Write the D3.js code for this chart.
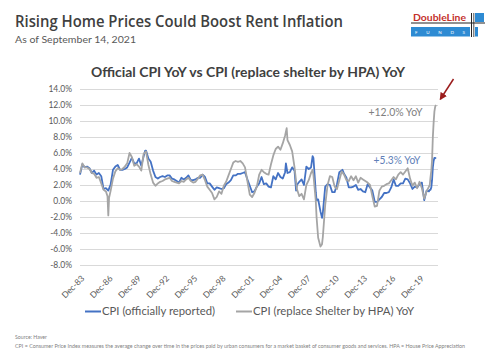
<!DOCTYPE html>
<html>
<head>
<meta charset="utf-8">
<script src="https://cdn.jsdelivr.net/npm/d3@7"></script>
<style>
  html, body { margin: 0; padding: 0; background: #fff; }
  svg { display: block; font-family: Lato, "Open Sans", sans-serif; }
  .grid line { stroke: #d9d9d9; stroke-width: 1; }
  .grid .domain { display: none; }
  .axis .domain, .axis line { display: none; }
  .axis text { fill: #595959; font-size: 8.5px; font-family: Lato, sans-serif; }
</style>
</head>
<body>
<svg id="chart" width="500" height="352"></svg>
<script>
// ---- data ----
const yTicks = [-8, -6, -4, -2, 0, 2, 4, 6, 8, 10, 12, 14];
const xTickLabels = ["Dec-83", "Dec-86", "Dec-89", "Dec-92", "Dec-95", "Dec-98",
  "Dec-01", "Dec-04", "Dec-07", "Dec-10", "Dec-13", "Dec-16", "Dec-19"];

const cpiOfficial = [
  ["1983-11", 3.3],
  ["1984-02", 4.6], ["1984-05", 4.2], ["1984-08", 4.3], ["1984-11", 4.1],
  ["1985-02", 3.5], ["1985-05", 3.8], ["1985-08", 3.3], ["1985-11", 3.5],
  ["1986-02", 3.1], ["1986-05", 1.5], ["1986-08", 1.6], ["1986-11", 1.3],
  ["1987-02", 2.1], ["1987-05", 3.9], ["1987-08", 4.3], ["1987-11", 4.5],
  ["1988-02", 3.9], ["1988-05", 3.9], ["1988-08", 4.0], ["1988-11", 4.2],
  ["1989-02", 4.8], ["1989-05", 5.4], ["1989-08", 4.7], ["1989-11", 4.7],
  ["1990-02", 5.3], ["1990-05", 4.4], ["1990-08", 5.6], ["1990-10", 6.3], ["1990-11", 6.3],
  ["1991-02", 5.3], ["1991-05", 4.9], ["1991-08", 3.8], ["1991-11", 3.0],
  ["1992-02", 2.8], ["1992-05", 3.0], ["1992-08", 3.1], ["1992-11", 3.0],
  ["1993-02", 3.2], ["1993-05", 3.2], ["1993-08", 2.8], ["1993-11", 2.7],
  ["1994-02", 2.5], ["1994-05", 2.3], ["1994-08", 2.9], ["1994-11", 2.7],
  ["1995-02", 2.9], ["1995-05", 3.2], ["1995-08", 2.6], ["1995-11", 2.6],
  ["1996-02", 2.7], ["1996-05", 2.9], ["1996-08", 2.9], ["1996-11", 3.3],
  ["1997-02", 3.0], ["1997-05", 2.2], ["1997-08", 2.2], ["1997-11", 1.8],
  ["1998-02", 1.4], ["1998-05", 1.7], ["1998-08", 1.6], ["1998-11", 1.5],
  ["1999-02", 1.6], ["1999-05", 2.1], ["1999-08", 2.3], ["1999-11", 2.6],
  ["2000-02", 3.2], ["2000-05", 3.2], ["2000-08", 3.4], ["2000-11", 3.4],
  ["2001-02", 3.5], ["2001-05", 3.6], ["2001-08", 2.7], ["2001-11", 1.9],
  ["2002-02", 1.1], ["2002-05", 1.2], ["2002-08", 1.8], ["2002-11", 2.2],
  ["2003-02", 3.0], ["2003-05", 2.1], ["2003-08", 2.2], ["2003-11", 1.8],
  ["2004-02", 1.7], ["2004-05", 3.1], ["2004-08", 2.7], ["2004-11", 3.5],
  ["2005-02", 3.0], ["2005-05", 2.8], ["2005-08", 3.6], ["2005-09", 4.7], ["2005-11", 3.5],
  ["2006-02", 3.6], ["2006-05", 4.2], ["2006-08", 3.8], ["2006-10", 1.3], ["2006-11", 2.0],
  ["2007-02", 2.4], ["2007-05", 2.7], ["2007-08", 2.0], ["2007-11", 4.3],
  ["2008-02", 4.0], ["2008-05", 4.2], ["2008-07", 5.6], ["2008-08", 5.4], ["2008-11", 1.1], ["2008-12", 0.1],
  ["2009-02", 0.2], ["2009-05", -1.3], ["2009-07", -2.1], ["2009-08", -1.5], ["2009-11", 1.8],
  ["2010-02", 2.1], ["2010-05", 2.0], ["2010-08", 1.1], ["2010-11", 1.1],
  ["2011-02", 2.1], ["2011-05", 3.6], ["2011-08", 3.8], ["2011-09", 3.9], ["2011-11", 3.4],
  ["2012-02", 2.9], ["2012-05", 1.7], ["2012-08", 1.7], ["2012-11", 1.8],
  ["2013-02", 2.0], ["2013-05", 1.4], ["2013-08", 1.5], ["2013-11", 1.2],
  ["2014-02", 1.1], ["2014-05", 2.1], ["2014-08", 1.7], ["2014-11", 1.3],
  ["2015-02", -0.1], ["2015-05", -0.1], ["2015-08", 0.2], ["2015-11", 0.5],
  ["2016-02", 1.0], ["2016-05", 1.0], ["2016-08", 1.1], ["2016-11", 1.7],
  ["2017-02", 2.7], ["2017-05", 1.9], ["2017-08", 1.9], ["2017-11", 2.2],
  ["2018-02", 2.2], ["2018-05", 2.8], ["2018-08", 2.7], ["2018-11", 2.2],
  ["2019-02", 1.5], ["2019-05", 1.8], ["2019-08", 1.7], ["2019-11", 2.1],
  ["2020-02", 2.3], ["2020-05", 0.1], ["2020-08", 1.3], ["2020-11", 1.2], ["2020-12", 1.4],
  ["2021-01", 1.4], ["2021-02", 1.7], ["2021-03", 2.6], ["2021-04", 4.2], ["2021-05", 5.0],
  ["2021-06", 5.4], ["2021-07", 5.4], ["2021-08", 5.3],
];

const cpiShelterHpa = [
  ["1983-11", 3.5],
  ["1984-02", 4.7], ["1984-05", 4.2], ["1984-08", 4.2], ["1984-11", 4.0],
  ["1985-02", 3.5], ["1985-05", 3.4], ["1985-08", 2.9], ["1985-11", 3.0],
  ["1986-02", 2.2], ["1986-05", 1.4], ["1986-08", 1.2], ["1986-10", 0.6], ["1986-11", -1.8], ["1986-12", 0.4],
  ["1987-02", 1.3], ["1987-05", 2.8], ["1987-08", 3.7], ["1987-11", 4.1],
  ["1988-02", 3.9], ["1988-05", 4.0], ["1988-08", 4.3], ["1988-11", 4.7],
  ["1989-02", 6.0], ["1989-05", 5.5], ["1989-08", 4.4], ["1989-11", 4.6],
  ["1990-02", 4.3], ["1990-05", 3.8], ["1990-08", 5.9], ["1990-11", 6.2],
  ["1991-02", 4.5], ["1991-05", 3.3], ["1991-08", 2.3], ["1991-11", 1.9],
  ["1992-02", 2.2], ["1992-05", 2.4], ["1992-08", 2.5], ["1992-11", 2.7],
  ["1993-02", 2.8], ["1993-05", 2.9], ["1993-08", 2.5], ["1993-11", 2.4],
  ["1994-02", 2.3], ["1994-05", 2.2], ["1994-08", 2.5], ["1994-11", 2.4],
  ["1995-02", 2.7], ["1995-05", 2.9], ["1995-08", 2.5], ["1995-11", 2.3],
  ["1996-02", 2.4], ["1996-05", 2.8], ["1996-08", 3.2], ["1996-11", 3.3],
  ["1997-02", 2.6], ["1997-05", 1.8], ["1997-08", 1.4], ["1997-11", 1.0],
  ["1998-02", 0.2], ["1998-05", 0.5], ["1998-08", 1.2], ["1998-11", 0.9],
  ["1999-02", 1.9], ["1999-05", 2.4], ["1999-08", 3.2], ["1999-11", 4.0],
  ["2000-02", 4.8], ["2000-05", 5.0], ["2000-08", 4.9], ["2000-11", 5.0],
  ["2001-02", 4.7], ["2001-05", 4.2], ["2001-08", 2.5], ["2001-11", 0.8],
  ["2002-02", 0.5], ["2002-05", 1.0], ["2002-08", 1.8], ["2002-11", 3.3],
  ["2003-02", 3.9], ["2003-05", 3.6], ["2003-08", 3.4], ["2003-11", 3.3],
  ["2004-02", 4.6], ["2004-05", 5.7], ["2004-08", 6.5], ["2004-11", 6.8],
  ["2005-02", 6.4], ["2005-05", 7.2], ["2005-08", 8.2], ["2005-10", 9.1], ["2005-11", 7.6],
  ["2006-02", 7.0], ["2006-05", 6.2], ["2006-08", 4.2], ["2006-11", 1.5],
  ["2007-02", 0.6], ["2007-05", 0.9], ["2007-08", 0.2], ["2007-11", 2.0],
  ["2008-02", 2.6], ["2008-05", 3.5], ["2008-07", 3.9], ["2008-08", 3.3], ["2008-11", 0.0], ["2008-12", -2.0],
  ["2009-02", -4.6], ["2009-05", -5.7], ["2009-07", -5.4], ["2009-08", -4.5], ["2009-11", -0.5],
  ["2010-02", 2.0], ["2010-05", 3.1], ["2010-08", 3.0], ["2010-11", 1.8],
  ["2011-02", 1.5], ["2011-05", 2.6], ["2011-08", 3.7], ["2011-11", 3.3],
  ["2012-02", 2.6], ["2012-05", 2.5], ["2012-08", 3.1], ["2012-11", 2.6],
  ["2013-02", 3.1], ["2013-05", 2.3], ["2013-08", 2.9], ["2013-11", 2.7],
  ["2014-02", 2.5], ["2014-05", 2.3], ["2014-08", 2.0], ["2014-11", 0.6],
  ["2015-02", -0.7], ["2015-05", -0.6], ["2015-08", 1.3], ["2015-11", 1.8],
  ["2016-02", 1.9], ["2016-05", 2.1], ["2016-08", 2.2], ["2016-11", 2.6],
  ["2017-02", 3.0], ["2017-05", 2.7], ["2017-08", 3.3], ["2017-11", 3.6],
  ["2018-02", 3.3], ["2018-05", 3.7], ["2018-08", 4.1], ["2018-11", 2.8],
  ["2019-02", 1.9], ["2019-05", 2.3], ["2019-08", 1.6], ["2019-11", 2.4],
  ["2020-02", 1.6], ["2020-05", 0.3], ["2020-08", 1.2], ["2020-11", 1.8], ["2020-12", 2.0],
  ["2021-01", 3.0], ["2021-02", 3.8], ["2021-03", 5.1], ["2021-04", 8.0], ["2021-05", 9.8],
  ["2021-06", 11.2], ["2021-07", 11.8], ["2021-08", 12.0],
];

const seriesNames = ["CPI (officially reported)", "CPI (replace Shelter by HPA) YoY"];
const calloutTexts = ["+12.0% YoY", "+5.3% YoY"];

// ---- layout ----
const svg = d3.select("#chart");
const plot = { left: 80, right: 436, top: 89, bottom: 265 };
const blue = "#4472c4";
const grey = "#a5a5a5";

const parseMonth = d3.timeParse("%Y-%m");
const parseTick = d3.timeParse("%b-%y");

const x = d3.scaleTime()
  .domain([parseMonth("1983-11"), parseMonth("2021-08")])
  .range([plot.left, plot.right]);

const y = d3.scaleLinear()
  .domain([-8, 14])
  .range([plot.bottom, plot.top]);

const line = d3.line()
  .x((d) => x(parseMonth(d[0])))
  .y((d) => y(d[1]));

function addText(str, opts) {
  const t = svg.append("text")
    .attr("x", opts.x)
    .attr("y", opts.y)
    .attr("font-size", opts.size)
    .attr("fill", opts.fill || "#404040")
    .attr("font-weight", opts.weight || 400)
    .attr("text-anchor", opts.anchor || "start")
    .text(str);
  if (opts.family) t.attr("font-family", opts.family);
  if (opts.width) {
    t.attr("textLength", opts.width).attr("lengthAdjust", "spacingAndGlyphs");
  }
  return t;
}

// headline
addText("Rising Home Prices Could Boost Rent Inflation",
  { x: 15, y: 27, size: 16.5, weight: 600, fill: "#404040", width: 328, family: "'Open Sans', sans-serif" });
addText("As of September 14, 2021",
  { x: 15, y: 42.5, size: 10, fill: "#595959", width: 121 });

// logo
const logo = svg.append("g");
logo.append("text")
  .attr("x", 413).attr("y", 20.5)
  .attr("font-size", 9.5).attr("font-weight", 700)
  .attr("fill", "#c4302b")
  .attr("textLength", 53).attr("lengthAdjust", "spacingAndGlyphs")
  .text("DoubleLine");
logo.append("rect").attr("x", 475).attr("y", 13).attr("width", 9).attr("height", 9).attr("fill", "#2e8bd3");
logo.append("line").attr("x1", 411).attr("x2", 485).attr("y1", 23).attr("y2", 23)
  .attr("stroke", "#222").attr("stroke-width", 1);
logo.append("rect").attr("x", 411).attr("y", 27).attr("width", 59).attr("height", 9.5).attr("fill", "#2e8bd3");
logo.append("rect").attr("x", 475).attr("y", 27).attr("width", 3).attr("height", 9.5).attr("fill", "#2e8bd3");
logo.append("line").attr("x1", 471.5).attr("x2", 471.5).attr("y1", 13).attr("y2", 37)
  .attr("stroke", "#222").attr("stroke-width", 1);
logo.append("line").attr("x1", 473.8).attr("x2", 473.8).attr("y1", 13).attr("y2", 37)
  .attr("stroke", "#222").attr("stroke-width", 0.8);
logo.append("text")
  .attr("x", 415).attr("y", 33.8)
  .attr("font-size", 4.5).attr("fill", "#fff")
  .attr("textLength", 50).attr("lengthAdjust", "spacing")
  .text("F U N D S");

// chart title
addText("Official CPI YoY vs CPI (replace shelter by HPA) YoY",
  { x: 248, y: 76.5, size: 14, weight: 700, fill: "#404040", anchor: "middle", width: 314 });

// grid
svg.append("g")
  .attr("class", "grid")
  .attr("transform", `translate(${plot.left},0)`)
  .call(d3.axisLeft(y).tickValues(yTicks).tickSize(-(438 - plot.left)).tickFormat(""));

// y axis labels
svg.append("g")
  .attr("class", "axis")
  .attr("transform", `translate(${plot.left},0)`)
  .call(d3.axisLeft(y).tickValues(yTicks).tickSize(0).tickPadding(8)
    .tickFormat((d) => `${d.toFixed(1)}%`));

// x axis labels, rotated
const xAxisG = svg.append("g")
  .attr("class", "axis")
  .attr("transform", `translate(0,${plot.bottom})`)
  .call(d3.axisBottom(x)
    .tickValues(xTickLabels.map((s) => parseTick(s)))
    .tickSize(0)
    .tickFormat(d3.timeFormat("%b-%y")));
xAxisG.selectAll("text")
  .attr("x", 0).attr("y", 0).attr("dy", "0.35em")
  .attr("text-anchor", "end")
  .attr("transform", "translate(1.5,12) rotate(-45)");

// series (grey drawn last, on top, as in the source)
svg.append("path")
  .datum(cpiOfficial)
  .attr("fill", "none")
  .attr("stroke", blue)
  .attr("stroke-width", 1.8)
  .attr("stroke-linejoin", "round")
  .attr("d", line);

svg.append("path")
  .datum(cpiShelterHpa)
  .attr("fill", "none")
  .attr("stroke", grey)
  .attr("stroke-width", 1.8)
  .attr("stroke-linejoin", "round")
  .attr("d", line);

// callouts
const lastGrey = cpiShelterHpa[cpiShelterHpa.length - 1];
const lastBlue = cpiOfficial[cpiOfficial.length - 1];
addText(calloutTexts[0], { x: x(parseMonth(lastGrey[0])) - 13.5, y: y(lastGrey[1]) + 11,
  size: 10.5, fill: "#7f7f7f", anchor: "end", width: 54 });
addText(calloutTexts[1], { x: x(parseMonth(lastBlue[0])) - 15.5, y: y(lastBlue[1]) + 5,
  size: 10.5, fill: "#5f7fb8", anchor: "end", width: 47 });

// red arrow pointing at the last grey point
svg.append("defs").append("marker")
  .attr("id", "arrowhead")
  .attr("viewBox", "0 0 10 10")
  .attr("refX", 8).attr("refY", 5)
  .attr("markerWidth", 5).attr("markerHeight", 5)
  .attr("orient", "auto")
  .append("path").attr("d", "M0,0 L10,5 L0,10 z").attr("fill", "#9b1c1c");
svg.append("line")
  .attr("x1", 453.5).attr("y1", 79)
  .attr("x2", x(parseMonth(lastGrey[0])) + 4.5).attr("y2", y(lastGrey[1]) - 6)
  .attr("stroke", "#9b1c1c").attr("stroke-width", 1.5)
  .attr("marker-end", "url(#arrowhead)");

// legend
const legendItems = [
  { name: seriesNames[0], color: blue, x: 85, width: 113 },
  { name: seriesNames[1], color: grey, x: 236, width: 161 },
];
legendItems.forEach((item) => {
  svg.append("line")
    .attr("x1", item.x).attr("x2", item.x + 16)
    .attr("y1", 311.5).attr("y2", 311.5)
    .attr("stroke", item.color).attr("stroke-width", 2);
  addText(item.name, { x: item.x + 17, y: 315, size: 11, fill: "#595959", width: item.width });
});

// footnotes
addText("Source: Haver", { x: 15, y: 338.5, size: 5.5, fill: "#7f7f7f", width: 32 });
addText("CPI = Consumer Price Index measures the average change over time in the prices paid by urban consumers for a market basket of consumer goods and services. HPA = House Price Appreciation",
  { x: 15, y: 347.5, size: 5.5, fill: "#7f7f7f", width: 450 });
</script>
</body>
</html>
